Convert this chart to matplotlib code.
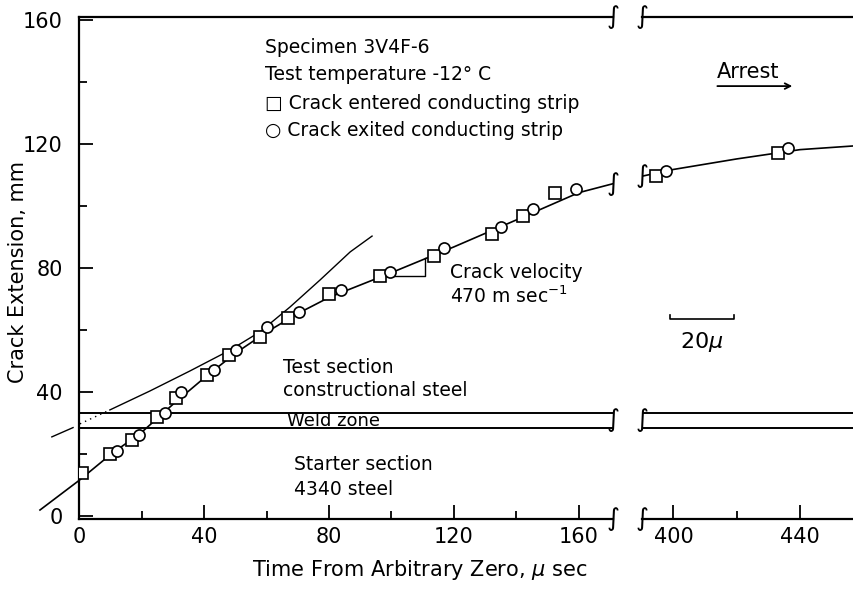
import numpy as np
import matplotlib
matplotlib.use("Agg")
import matplotlib.pyplot as plt
from matplotlib.ticker import MultipleLocator

plt.rcParams['font.family'] = ['DejaVu Sans']

# crack entered conducting strip (squares) / exited (circles), time in microsec, extension in mm
t_entered = [1.0, 9.8, 16.8, 25.0, 31.0, 40.8, 48.1, 57.9, 67.0, 80.1, 96.4, 113.7, 132.2, 142.3, 152.5]
a_entered = [13.8, 20.0, 24.5, 31.8, 38.2, 45.5, 51.9, 57.8, 64.0, 71.6, 77.4, 83.9, 90.9, 96.9, 104.1]
t_exited = [12.0, 19.1, 27.5, 32.6, 43.2, 50.2, 60.3, 70.5, 83.9, 99.4, 116.9, 135.2, 145.3, 159.2]
a_exited = [21.1, 26.1, 33.1, 40.1, 47.1, 53.5, 60.9, 65.9, 72.9, 78.6, 86.4, 93.1, 98.9, 105.4]

# points after the axis break (near arrest)
t_entered_late = [394.5, 433.1]
a_entered_late = [109.7, 117.2]
t_exited_late = [397.7, 436.1]
a_exited_late = [111.4, 118.8]

# hand drawn curve through the data
t_curve = [-12.6, 0.0, 10.0, 20.0, 30.0, 40.0, 50.0, 60.0, 70.0, 80.0, 100.0, 120.0, 140.0, 160.0, 171.0]
a_curve = [1.9, 11.5, 19.8, 27.0, 36.0, 44.5, 52.5, 59.3, 65.3, 70.5, 78.5, 86.8, 95.5, 104.3, 107.2]
t_curve_late = [390.0, 400.0, 420.0, 440.0, 457.0]
a_curve_late = [109.6, 111.8, 115.2, 118.2, 119.4]

# second curve (upper, concave up)
t_upper = [-8.8, -2.0, 0.2, 9.8, 22.6, 35.5, 48.3, 57.9, 67.5, 77.1, 86.8, 93.8]
a_upper = [25.5, 28.5, 29.7, 34.2, 40.3, 46.8, 53.5, 59.4, 67.4, 76.1, 85.2, 90.3]

# weld zone boundaries, mm
weld_low = 28.3
weld_high = 33.3

fig = plt.figure(figsize=(8.54, 5.91), dpi=100)
W, H = 854.0, 591.0
ax1 = fig.add_axes([79.3 / W, 72 / H, (613 - 79.3) / W, 502 / H])
ax2 = fig.add_axes([641.7 / W, 72 / H, (854 - 641.7) / W, 502 / H])

for ax in (ax1, ax2):
    ax.set_ylim(-1, 161)
    for s in ax.spines.values():
        s.set_linewidth(1.6)
    ax.spines['right'].set_visible(False)
    ax.tick_params(direction='in', length=10, width=1.3, labelsize=15, pad=6)
    ax.tick_params(which='minor', direction='in', length=6, width=1.3)
    ax.axhline(weld_low, color='k', lw=1.4)
    ax.axhline(weld_high, color='k', lw=1.4)

ax1.set_xlim(0, 171)
ax1.xaxis.set_major_locator(MultipleLocator(40))
ax1.xaxis.set_minor_locator(MultipleLocator(20))
ax1.yaxis.set_major_locator(MultipleLocator(40))
ax1.yaxis.set_minor_locator(MultipleLocator(20))
ax1.tick_params(axis='y', pad=12)

ax2.set_xlim(390, 457)
ax2.xaxis.set_major_locator(MultipleLocator(40))
ax2.xaxis.set_minor_locator(MultipleLocator(20))
ax2.spines['left'].set_visible(False)
ax2.yaxis.set_visible(False)

# curves
ax1.plot(t_curve, a_curve, color='k', lw=1.2, clip_on=False)
ax2.plot(t_curve_late, a_curve_late, color='k', lw=1.2)
ax1.plot(t_upper[:2], a_upper[:2], color='k', lw=1.0, clip_on=False)
ax1.plot(t_upper[2:4], a_upper[2:4], color='k', lw=1.0, ls=(0, (1, 3)))
ax1.plot(t_upper[3:], a_upper[3:], color='k', lw=1.0)

# data points
mk = dict(ls='none', mfc='white', mec='k', mew=1.2, ms=8, zorder=5)
ax1.plot(t_entered, a_entered, marker='s', **mk)
ax1.plot(t_exited, a_exited, marker='o', **mk)
ax2.plot(t_entered_late, a_entered_late, marker='s', **mk)
ax2.plot(t_exited_late, a_exited_late, marker='o', **mk)

# velocity triangle
ax1.plot([96.4, 110.8, 110.8], [77.4, 77.4, 83.1], color='k', lw=1.0)

# break marks
brk = dict(fontsize=18, ha='center', va='center', clip_on=False, style='italic')
for y in (161, weld_low + 2.5, -1):
    ax1.text(171, y, '∫', **brk)
    ax2.text(390, y, '∫', **brk)
ax1.text(171, 107.2, '∫', **brk)
ax2.text(390, 109.6, '∫', **brk)

# text
fs = 13.5
ax1.text(59.5, 151.3, 'Specimen 3V4F-6', fontsize=fs, va='center')
ax1.text(59.5, 142.6, 'Test temperature -12° C', fontsize=fs, va='center')
ax1.text(59.5, 133.2, '□ Crack entered conducting strip', fontsize=fs, va='center')
ax1.text(59.5, 124.5, '○ Crack exited conducting strip', fontsize=fs, va='center')
ax1.text(118.8, 78.7, 'Crack velocity', fontsize=fs, va='center')
ax1.text(118.8, 71.0, '470 m sec$^{-1}$', fontsize=fs, va='center')
ax1.text(65.3, 48.0, 'Test section', fontsize=fs, va='center')
ax1.text(65.3, 40.6, 'constructional steel', fontsize=fs, va='center')
ax1.text(66.5, 30.6, 'Weld zone', fontsize=13, va='center')
ax1.text(68.8, 16.5, 'Starter section', fontsize=fs, va='center')
ax1.text(68.8, 8.4, '4340 steel', fontsize=fs, va='center')

ax2.text(423.6, 143.2, 'Arrest', fontsize=15, ha='center', va='center')
ax2.annotate('', xy=(438.4, 138.7), xytext=(413, 138.7),
             arrowprops=dict(arrowstyle='->', color='k', lw=1.3))
ax2.plot([399, 399, 419, 419], [64.8, 63.5, 63.5, 64.8], color='k', lw=1.2)
ax2.text(409, 56.1, '20$\\mu$', fontsize=16, ha='center', va='center')

fig.text(18 / W, 1 - 272 / H, 'Crack Extension, mm', fontsize=15, rotation=90,
         ha='center', va='center')
fig.text(420 / W, 1 - 570 / H, 'Time From Arbitrary Zero, $\\mu$ sec', fontsize=15,
         ha='center', va='center')

fig.savefig('out.png', dpi=100)
